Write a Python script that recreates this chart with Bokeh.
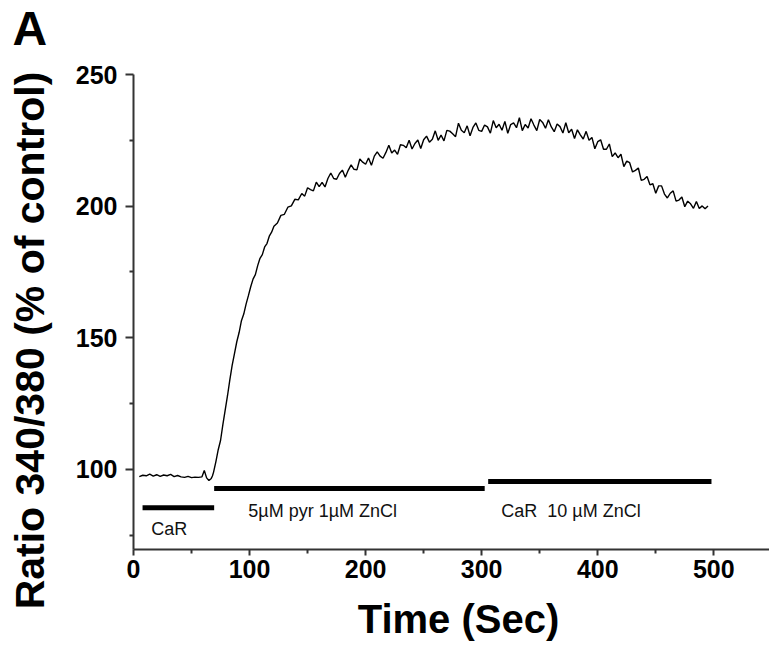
import math
from bokeh.plotting import figure
from bokeh.models import Range1d, FixedTicker, Label, ColumnDataSource
from bokeh.core.properties import value
from bokeh.embed import file_html
from bokeh.resources import INLINE

# ---- data ----
time_s = [5, 8, 11, 14, 17, 20, 23, 26, 29, 32, 35, 38, 41, 44, 47, 50, 53, 56, 59, 61, 63, 65, 67,
          68, 69, 71, 73, 75, 77, 79, 81, 83, 85, 87, 89, 91, 93, 95, 97, 99, 101, 103, 105, 107, 109,
          111, 113, 115, 117, 119, 121, 124, 127, 130, 133, 136, 139, 142,
          145, 147.5, 150, 152.5, 155, 157.5, 160, 162.5, 165, 167.5, 170, 172.5, 175, 177.5, 180,
          182.5, 185, 187.5, 190, 192.5, 195, 197.5, 200, 202.5, 205, 207.5, 210, 212.5, 215, 217.5,
          220, 222.5, 225, 227.5, 230, 232.5, 235, 237.5, 240, 242.5, 245, 247.5, 250, 252.5, 255,
          257.5, 260, 262.5, 265, 267.5, 270, 272.5, 275, 277.5, 280, 282.5, 285, 287.5, 290, 292.5,
          295, 297.5, 300, 302.5, 305, 307.5, 310, 312.5, 315, 317.5, 320, 322.5, 325, 327.5, 330,
          332.5, 335, 337.5, 340, 342.5, 345, 347.5, 350, 352.5, 355, 357.5, 360, 362.5, 365, 367.5,
          370, 372.5, 375, 377.5, 380, 382.5, 385, 387.5, 390, 392.5, 395, 397.5, 400, 402.5, 405,
          407.5, 410, 412.5, 415, 417.5, 420, 422.5, 425, 427.5, 430, 432.5, 435, 437.5, 440, 442.5,
          445, 447.5, 450, 452.5, 455, 457.5, 460, 462.5, 465, 467.5, 470, 472.5, 475, 477.5, 480,
          482.5, 485, 487.5, 490, 492.5, 495]
ratio_pct = [97.3, 97.8, 97.6, 98.2, 97.5, 98.0, 97.4, 97.9, 97.6, 98.1, 97.3, 97.7, 97.2, 97.0, 97.4,
             96.9, 97.1, 97.0, 97.2, 99.6, 96.8, 95.8, 96.6,
             97.5, 99.0, 103, 107.5, 111, 117, 122.5, 128, 134, 139.5, 144, 148.5, 152, 156.5, 159,
             162.8, 166, 169.4, 172.3, 174.0, 177.4, 180.2, 181.6, 184.5, 185.8, 188.6, 190.1,
             192.4, 193.6, 196.5, 196.9, 199.6, 200.1, 202.6, 202.4,
             204.8, 203.8, 207.0, 206.3, 205.8, 209.1, 207.4, 209.0, 207.3, 210.5, 212.6, 210.5, 210.2,
             212.4, 213.7, 211.0, 213.6, 215.7, 214.0, 213.8, 217.9, 216.7, 215.9, 218.3, 215.5, 219.0,
             220.6, 219.0, 218.2, 220.4, 223.1, 220.2, 221.3, 219.7, 223.3, 223.1, 222.2, 225.0, 221.7,
             223.8, 225.1, 221.9, 225.2, 226.6, 224.3, 225.4, 228.6, 225.0, 227.0, 224.8, 228.8, 228.5,
             227.5, 226.4, 231.5, 228.8, 227.9, 230.5, 226.7, 229.9, 231.6, 228.8, 228.4, 230.8, 230.1,
             227.7, 232.5, 229.8, 231.1, 228.8, 232.2, 227.7, 231.0, 231.6, 229.8, 233.6, 228.7, 231.0,
             229.7, 233.2, 230.8, 228.7, 232.9, 231.8, 229.6, 232.8, 230.1, 228.3, 231.2, 230.2, 227.8,
             231.7, 227.9, 229.2, 225.7, 229.0, 227.1, 225.5, 228.4, 225.0, 226.1, 221.8, 224.5, 225.2,
             221.6, 221.6, 223.6, 218.8, 220.2, 218.4, 219.7, 215.0, 217.1, 216.5, 213.0, 213.6, 214.5,
             209.8, 210.2, 211.3, 208.1, 208.5, 204.9, 207.7, 207.7, 204.6, 203.1, 204.9, 205.8, 201.9,
             202.3, 203.5, 199.8, 201.9, 200.9, 199.2, 201.8, 199.1, 200.1, 199.0, 200.1]

bar_start = [7.8, 69.5, 305.6]
bar_end = [69.5, 302.6, 498]
bar_level = [85.5, 92.8, 95.4]

bar_text = ["CaR", "5\u00b5M pyr 1\u00b5M ZnCl", "CaR\u00a0 10 \u00b5M ZnCl"]
bar_text_x = [30.8, 163, 377]
bar_text_y = [77.5, 84.4, 84.4]

x_major = [0, 100, 200, 300, 400, 500]
x_minor = [50, 150, 250, 350, 450, 550]
y_major = [100, 150, 200, 250]
y_minor = [75, 125, 175, 225]

X_AXIS_END = 548
Y_AXIS_START, Y_AXIS_END = 69.6, 250

FONT = "Liberation Sans"

# The frame covers the whole page; the axes are pinned at x=0 and y=69.6 so that
# the axis titles and the panel letter can be placed anywhere without being clipped.
W, H = 769, 651
FRAME_LEFT, FRAME_TOP, FRAME_BOTTOM = 133, 74, 549
sx = (W - FRAME_LEFT) / X_AXIS_END
sy = (FRAME_BOTTOM - FRAME_TOP) / (Y_AXIS_END - Y_AXIS_START)
x_rng = Range1d(-FRAME_LEFT / sx, X_AXIS_END)
y_rng = Range1d(Y_AXIS_START - (H - FRAME_BOTTOM) / sy, Y_AXIS_END + FRAME_TOP / sy)

p = figure(frame_width=W, frame_height=H, min_border=0, min_border_left=0, min_border_right=0,
           min_border_top=0, min_border_bottom=0, output_backend="svg",
           toolbar_location=None, x_range=x_rng, y_range=y_rng)
p.outline_line_color = None
p.grid.visible = False
p.background_fill_color = "white"
p.border_fill_color = "white"

p.line(time_s, ratio_pct, line_color="black", line_width=1.4)

p.segment(x0=bar_start, x1=bar_end, y0=bar_level, y1=bar_level, line_color="black", line_width=5)

src = ColumnDataSource(dict(x=bar_text_x, y=bar_text_y, t=bar_text))
p.text(x="x", y="y", text="t", source=src, text_font=value(FONT), text_font_size="18px",
       text_align="center", text_baseline="alphabetic", text_color="#111111")

for ax, major, minor in ((p.xaxis[0], x_major, x_minor), (p.yaxis[0], y_major, y_minor)):
    ax.ticker = FixedTicker(ticks=major, minor_ticks=minor)
    ax.axis_line_color = "#333333"
    ax.axis_line_width = 2
    ax.major_tick_line_color = "#333333"
    ax.major_tick_line_width = 2
    ax.minor_tick_line_color = "#333333"
    ax.minor_tick_line_width = 2
    ax.major_tick_in = 0
    ax.minor_tick_in = 0
    ax.major_label_text_font = FONT
    ax.major_label_text_font_style = "bold"
    ax.major_label_text_font_size = "25px"
    ax.major_label_text_color = "black"

p.xaxis[0].fixed_location = Y_AXIS_START
p.xaxis[0].bounds = (0, X_AXIS_END)
p.yaxis[0].fixed_location = 0
p.yaxis[0].bounds = (Y_AXIS_START, Y_AXIS_END)

p.yaxis[0].major_tick_out = 8
p.yaxis[0].minor_tick_out = 4
p.yaxis[0].major_label_standoff = 8
p.xaxis[0].major_tick_out = 6
p.xaxis[0].minor_tick_out = 4
p.xaxis[0].major_label_standoff = 4

# axis titles and panel letter (positions in screen pixels converted to data units)
def dx(px):
    return (px - FRAME_LEFT) / sx

def dy(py):
    return Y_AXIS_END - (py - FRAME_TOP) / sy

p.add_layout(Label(x=dx(29), y=dy(340), text="Ratio 340/380 (% of control)", angle=math.pi / 2,
                   text_font=FONT, text_font_style="bold", text_font_size="41px",
                   text_align="center", text_baseline="alphabetic", text_color="black"))
p.add_layout(Label(x=dx(458), y=dy(618), text="Time (Sec)", text_font=FONT,
                   text_font_style="bold", text_font_size="40px", text_align="center",
                   text_baseline="alphabetic", text_color="black"))
p.add_layout(Label(x=dx(12), y=dy(28), text="A", text_font=FONT, text_font_style="bold",
                   text_font_size="48px", text_align="left", text_baseline="alphabetic",
                   text_color="black"))

open("out.html", "w").write(file_html(p, INLINE))
